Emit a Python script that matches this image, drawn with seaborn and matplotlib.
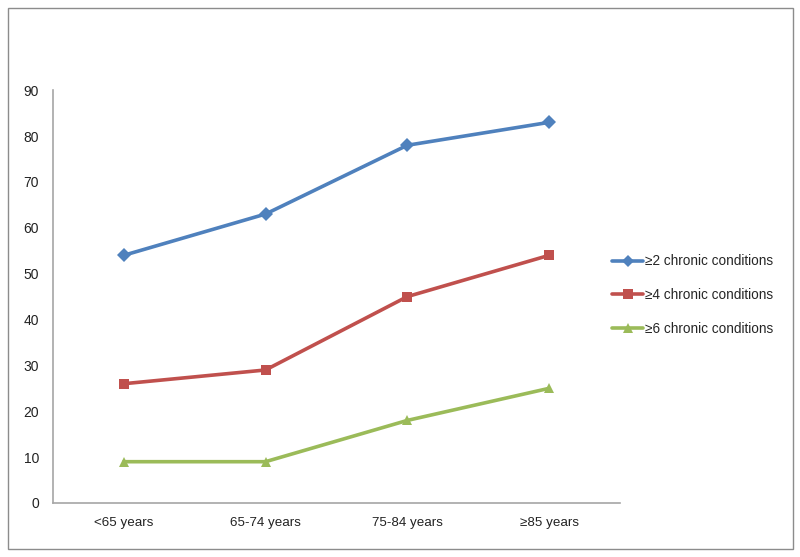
import matplotlib
matplotlib.use("Agg")
import matplotlib.pyplot as plt
import seaborn as sns
import pandas as pd
from matplotlib.patches import Rectangle

categories = ["<65 years", "65-74 years", "75-84 years", "≥85 years"]
series_names = ["≥2 chronic conditions", "≥4 chronic conditions", "≥6 chronic conditions"]
vals_2 = [54, 63, 78, 83]
vals_4 = [26, 29, 45, 54]
vals_6 = [9, 9, 18, 25]
y_ticks = [0, 10, 20, 30, 40, 50, 60, 70, 80, 90]

colors = ["#4F81BD", "#C0504D", "#9BBB59"]
markers = ["D", "s", "^"]

rows = []
for name, vals in zip(series_names, [vals_2, vals_4, vals_6]):
    for i, (c, v) in enumerate(zip(categories, vals)):
        rows.append({"pos": i, "cat": c, "series": name, "value": v})
df = pd.DataFrame(rows)

sns.set_theme(style="white")
plt.rcParams["font.family"] = ["Liberation Sans", "DejaVu Sans"]

fig = plt.figure(figsize=(8.0, 5.57), dpi=100)
ax = fig.add_axes([0.066, 0.097, 0.709, 0.741])

sns.lineplot(data=df, x="pos", y="value", hue="series", style="series",
             palette=colors, markers=markers, dashes=False, linewidth=2.6,
             markersize=7.5, markeredgewidth=0, ax=ax)

ax.set_xlim(-0.5, 3.5)
ax.set_ylim(0, 90)
ax.set_xticks(range(len(categories)))
ax.set_xticklabels(categories, fontsize=9.6, color="#222222")
ax.set_yticks(y_ticks)
ax.set_yticklabels([str(t) for t in y_ticks], fontsize=10, color="#222222")
ax.tick_params(axis="both", length=0, pad=10)
ax.set_xlabel("")
ax.set_ylabel("")
for s in ["top", "right"]:
    ax.spines[s].set_visible(False)
for s in ["left", "bottom"]:
    ax.spines[s].set_color("#A6A6A6")
    ax.spines[s].set_linewidth(1.2)

handles, labels = ax.get_legend_handles_labels()
for h in handles:
    h.set_markersize(6.5)
ax.legend(handles, labels, loc="center left",
          bbox_to_anchor=(612 / 800, 1 - 295 / 557), bbox_transform=fig.transFigure,
          frameon=False, fontsize=9.8, handlelength=2.3, handletextpad=0.15,
          labelspacing=1.45, borderpad=0, borderaxespad=0)

fig.patches.append(Rectangle((8 / 800, 1 - 549 / 557), 785 / 800, 541 / 557,
                             transform=fig.transFigure, fill=False,
                             edgecolor="#8C8C8C", linewidth=1.0))

fig.savefig("out.png", dpi=100)
